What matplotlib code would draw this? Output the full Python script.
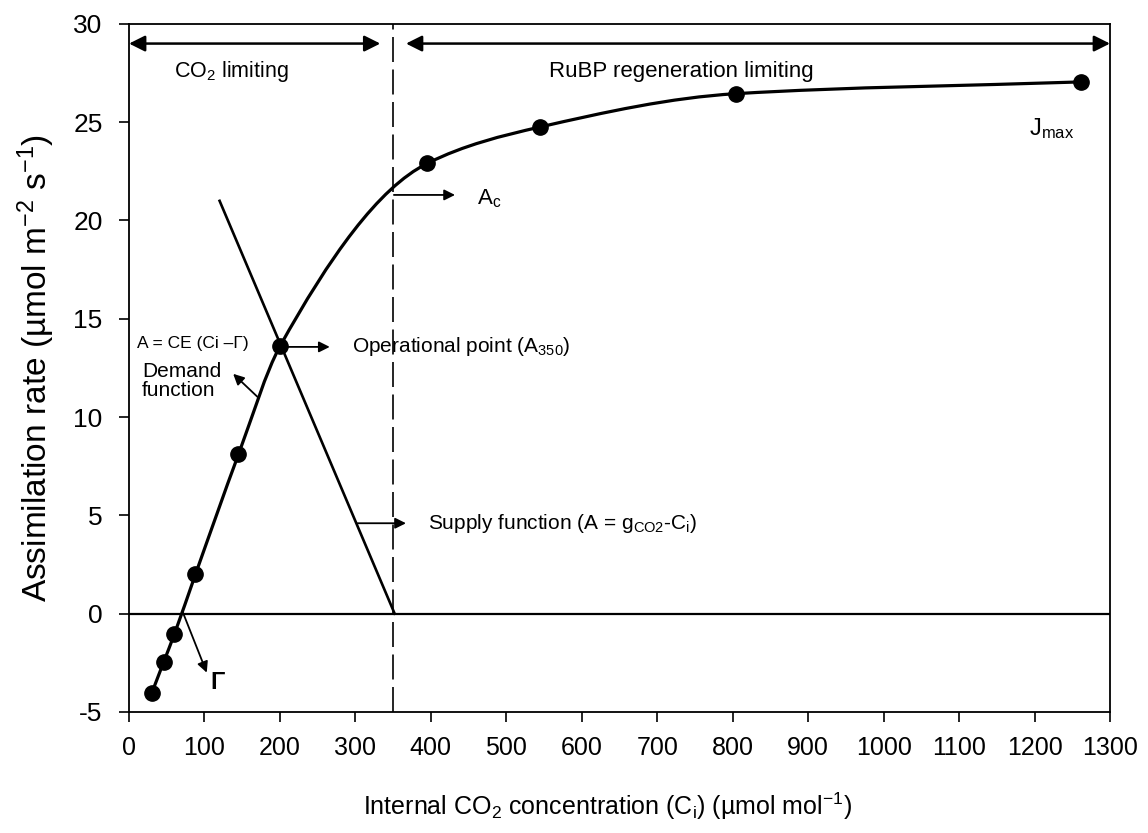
import numpy as np
import matplotlib
matplotlib.use("Agg")
import matplotlib.pyplot as plt
from matplotlib.path import Path
from matplotlib.patches import PathPatch

# Measured A/Ci response
ci = [30, 46, 60, 88, 145, 200, 395, 544, 804, 1262]
assim = [-4.05, -2.45, -1.05, 2.0, 8.1, 13.6, 22.9, 24.75, 26.45, 27.05]

# Supply function (stomatal conductance line)
supply_ci = [120, 352]
supply_a = [21.0, 0.0]

ambient_ci = 350          # boundary between limitations
gamma_ci = 71             # CO2 compensation point
x_ticks = list(range(0, 1301, 100))
y_ticks = list(range(-5, 31, 5))

FONT = ["Liberation Sans", "DejaVu Sans"]
plt.rcParams["font.family"] = FONT
plt.rcParams["mathtext.fontset"] = "custom"
plt.rcParams["mathtext.rm"] = "Liberation Sans"
plt.rcParams["mathtext.it"] = "Liberation Sans"
plt.rcParams["mathtext.bf"] = "Liberation Sans:bold"
plt.rcParams["mathtext.default"] = "rm"
plt.rcParams["axes.unicode_minus"] = False

fig = plt.figure(figsize=(11.48, 8.33), dpi=100)
ax = fig.add_axes([0.1124, 0.1453, 0.8545, 0.826])


def pchip_slopes(x, y):
    """Shape-preserving tangents (Fritsch-Carlson)."""
    h = np.diff(x)
    d = np.diff(y) / h
    m = np.zeros_like(y)
    for k in range(1, len(x) - 1):
        if d[k - 1] * d[k] <= 0:
            m[k] = 0.0
        else:
            w1 = 2 * h[k] + h[k - 1]
            w2 = h[k] + 2 * h[k - 1]
            m[k] = (w1 + w2) / (w1 / d[k - 1] + w2 / d[k])
    m[0] = d[0]
    m[-1] = d[-1]
    return m


# Smooth response curve as cubic Bezier segments through the points
xs = np.asarray(ci, float)
ys = np.asarray(assim, float)
slopes = pchip_slopes(xs, ys)
verts = [(xs[0], ys[0])]
codes = [Path.MOVETO]
for i in range(len(xs) - 1):
    h = xs[i + 1] - xs[i]
    verts += [(xs[i] + h / 3, ys[i] + slopes[i] * h / 3),
              (xs[i + 1] - h / 3, ys[i + 1] - slopes[i + 1] * h / 3),
              (xs[i + 1], ys[i + 1])]
    codes += [Path.CURVE4] * 3
ax.add_patch(PathPatch(Path(verts, codes), fill=False, lw=2.3,
                       edgecolor="black", capstyle="round", zorder=3))
ax.plot(ci, assim, "o", color="black", ms=11, zorder=4)

# Supply line, zero line and ambient CO2 boundary
ax.plot(supply_ci, supply_a, color="black", lw=1.9, zorder=3)
ax.axhline(0, color="black", lw=1.6, zorder=2)
ax.axvline(ambient_ci, color="black", lw=1.2, dashes=(15, 4.5), zorder=2)

ax.set_xlim(0, 1300)
ax.set_ylim(-5, 30)
ax.set_xticks(x_ticks)
ax.set_yticks(y_ticks)
ax.tick_params(axis="both", direction="out", length=7, width=1.2,
               labelsize=19, pad=12)
ax.tick_params(axis="x", pad=10, labelsize=18)
for s in ax.spines.values():
    s.set_linewidth(1.3)

ax.set_xlabel("Internal CO$_2$ concentration (C$_i$) (µmol mol$^{-1}$)",
              fontsize=18, labelpad=22)
ax.xaxis.set_label_coords(0.488, -0.115)
ax.set_ylabel("Assimilation rate (µmol m$^{-2}$ s$^{-1}$)",
              fontsize=24, labelpad=12)

# Limitation regions
head = dict(arrowstyle="<|-|>", color="black", lw=1.8, mutation_scale=24,
            shrinkA=0, shrinkB=0)
ax.annotate("", xy=(0, 29), xytext=(333, 29), arrowprops=head)
ax.annotate("", xy=(367, 29), xytext=(1300, 29), arrowprops=head)
ax.text(136, 27.6, "CO$_2$ limiting", fontsize=15.5, ha="center", va="center")
ax.text(732, 27.6, "RuBP regeneration limiting", fontsize=16,
        ha="center", va="center")

one = dict(arrowstyle="-|>", color="black", lw=1.3, mutation_scale=16,
           shrinkA=0, shrinkB=0)
# A_c
ax.annotate("", xy=(432, 21.3), xytext=(351, 21.3), arrowprops=one)
ax.text(461, 21.1, "A$_c$", fontsize=16, ha="left", va="center")
# Operational point
ax.annotate("", xy=(266, 13.57), xytext=(207, 13.57), arrowprops=one)
ax.text(296, 13.57, "Operational point (A$_{350}$)", fontsize=15,
        ha="left", va="center")
# Demand function
ax.text(10.6, 13.75, "A = CE (Ci –Γ)", fontsize=12.5, ha="left", va="center")
ax.text(17, 11.85, "Demand\nfunction", fontsize=15, ha="left", va="center",
        linespacing=1.0)
ax.annotate("", xy=(138, 12.2), xytext=(171, 11.0), arrowprops=one)
# Supply function
ax.annotate("", xy=(367, 4.6), xytext=(303, 4.6), arrowprops=one)
ax.text(396, 4.6, "Supply function (A = g$_{CO2}$-C$_i$)", fontsize=15,
        ha="left", va="center")
# Compensation point
ax.annotate("", xy=(103, -3.0), xytext=(gamma_ci, 0.1), arrowprops=one)
ax.text(117, -3.5, "Γ", fontsize=17, ha="center", va="center",
        fontweight="bold")
# J_max
ax.text(1222, 24.7, "J$_{max}$", fontsize=17, ha="center", va="center")

fig.savefig("out.png", dpi=100)
